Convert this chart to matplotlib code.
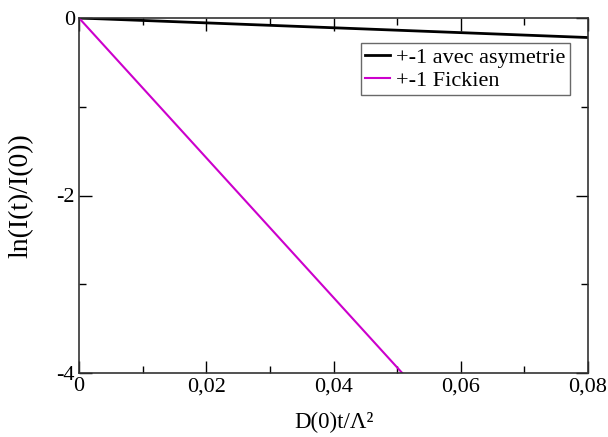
import matplotlib
matplotlib.use("Agg")
import matplotlib.pyplot as plt
import numpy as np
from matplotlib.ticker import MultipleLocator, FuncFormatter

plt.rcParams['font.family'] = ['Liberation Serif', 'DejaVu Serif']

x_range = [0.0, 0.08]
asym_y = [0.0, -0.22]
fick_x = [0.0, 0.0508]
fick_y = [0.0, -4.0]
labels = ["+-1 avec asymetrie", "+-1 Fickien"]

fig = plt.figure(figsize=(6.08, 4.37), dpi=100)
L, R, T, B = 79, 588, 18, 373
ax = fig.add_axes([L/608, 1-B/437, (R-L)/608, (B-T)/437])
ax.plot(x_range, asym_y, color='black', lw=2.0, label=labels[0])
ax.plot(fick_x, fick_y, color='#cc00cc', lw=1.5, label=labels[1])
ax.set_xlim(0, 0.08)
ax.set_ylim(-4, 0)
ax.xaxis.set_major_locator(MultipleLocator(0.02))
ax.xaxis.set_minor_locator(MultipleLocator(0.01))
ax.yaxis.set_major_locator(MultipleLocator(2))
ax.yaxis.set_minor_locator(MultipleLocator(1))
ax.xaxis.set_major_formatter(FuncFormatter(lambda v, p: "0" if abs(v) < 1e-9 else f"{v:.2f}".replace('.', ',')))
ax.yaxis.set_major_formatter(FuncFormatter(lambda v, p: f"{v:g}"))
ax.tick_params(which='both', direction='in', top=True, right=True, labelsize=16)
ax.tick_params(which='major', length=9, width=1)
ax.tick_params(which='minor', length=5, width=1)
ax.tick_params(axis='x', pad=3)
ax.tick_params(axis='y', pad=3)
for s in ax.spines.values():
    s.set_linewidth(1.2)
    s.set_color('#333333')
ax.set_xlabel("D(0)t/Λ²", fontsize=16.5)
ax.set_ylabel("ln(I(t)/I(0))", fontsize=20)
ax.xaxis.set_label_coords(0.5, -(412-B)/(B-T))
ax.yaxis.set_label_coords(-(79-34)/(R-L), 0.5)
leg = ax.legend(loc='upper right', bbox_to_anchor=(570/608, 1-43/437), bbox_transform=fig.transFigure,
                fontsize=16, frameon=True, fancybox=False, handlelength=1.1, handletextpad=0.3,
                borderpad=0.2, labelspacing=0.1, borderaxespad=0)
leg.get_frame().set_edgecolor('#444444')
leg.get_frame().set_linewidth(1.0)
fig.savefig("out.png", dpi=100)
